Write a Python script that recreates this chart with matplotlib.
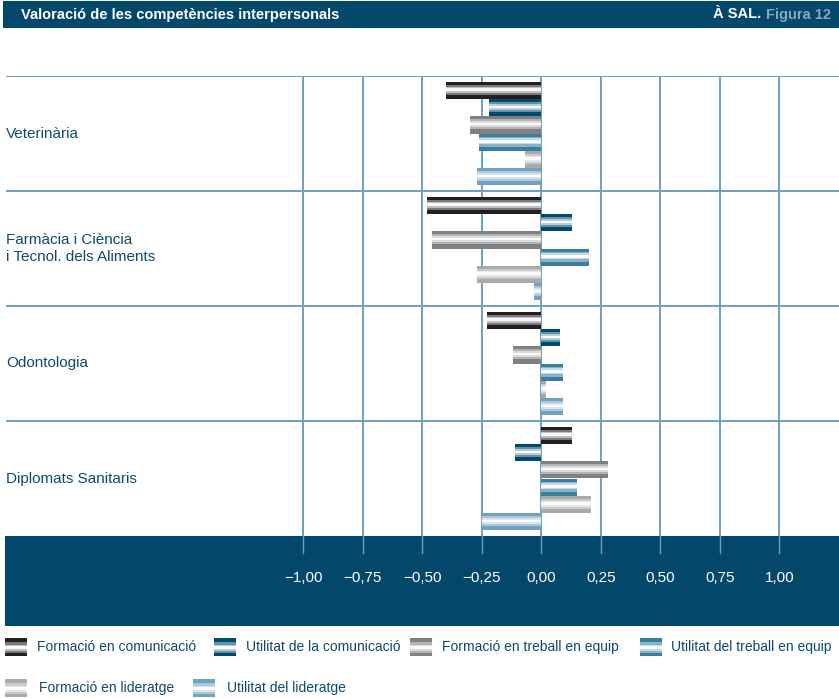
import numpy as np
import matplotlib
matplotlib.use("Agg")
import matplotlib.pyplot as plt
from matplotlib.colors import to_rgb
from matplotlib.patches import Rectangle

plt.rcParams['font.family'] = ['Liberation Sans', 'DejaVu Sans']

categories = ["Veterinària", "Farmàcia i Ciència\ni Tecnol. dels Aliments",
              "Odontologia", "Diplomats Sanitaris"]
series = ["Formació en comunicació", "Utilitat de la comunicació",
          "Formació en treball en equip", "Utilitat del treball en equip",
          "Formació en lideratge", "Utilitat del lideratge"]

form_comunicacio = [-0.40, -0.48, -0.23, 0.13]
util_comunicacio = [-0.22, 0.13, 0.08, -0.11]
form_treball = [-0.30, -0.46, -0.12, 0.28]
util_treball = [-0.26, 0.20, 0.09, 0.15]
form_lideratge = [-0.07, -0.27, 0.02, 0.21]
util_lideratge = [-0.27, -0.03, 0.09, -0.25]

ticks = [-1.0, -0.75, -0.5, -0.25, 0.0, 0.25, 0.5, 0.75, 1.0]
tick_labels = ["\u22121,00", "\u22120,75", "\u22120,50", "\u22120,25",
               "0,00", "0,25", "0,50", "0,75", "1,00"]

values = [form_comunicacio, util_comunicacio, form_treball,
          util_treball, form_lideratge, util_lideratge]
base_colors = ["#231f20", "#004a6e", "#808080", "#3a7ea0", "#a9a9a9", "#73a2c0"]

NAVY = "#03476b"
GRID = "#6f9fc0"
LABEL = "#0f4a6c"

# metallic look: (mix toward white, relative thickness), top to bottom
stripes = [(0.0, 3.3), (0.4, 1.7), (0.72, 1.7), (0.97, 2.7),
           (0.72, 1.7), (0.4, 2.3), (0.0, 4.3)]


def shade(color, t):
    c = np.array(to_rgb(color))
    return tuple(c + (1 - c) * t)


def striped_rect(ax, x, y, w, h, color):
    total = sum(s[1] for s in stripes)
    top = y + h
    for t, frac in stripes:
        sh = h * frac / total
        ax.add_patch(Rectangle((x, top - sh), w, sh, facecolor=shade(color, t),
                               edgecolor="none"))
        top -= sh


W, H = 839, 699
fig = plt.figure(figsize=(W / 100, H / 100), dpi=100)


def fax(x0, y0, x1, y1):
    # pixel box (top-left origin) -> figure axes
    return fig.add_axes([x0 / W, 1 - y1 / H, (x1 - x0) / W, (y1 - y0) / H])


xmin = (6 - 541.3) / 238
xmax = (839 - 541.3) / 238

# header bar
hdr = fax(3, 1, 839, 28)
hdr.set_axis_off()
hdr.add_patch(Rectangle((0, 0), 1, 1, transform=hdr.transAxes, color=NAVY))
hdr.text(0.021, 0.5, "Valoració de les competències interpersonals",
         color="white", fontsize=10.5, fontweight="bold", va="center", ha="left")
hdr.text(0.913, 0.5, "Figura 12", color="#8aa6ba", fontsize=10.5,
         fontweight="bold", va="center", ha="left")
hdr.text(0.907, 0.5, "À SAL.", color="white", fontsize=10.5,
         fontweight="bold", va="center", ha="right")

# main chart
ax = fax(6, 76, 839, 536)
ax.set_xlim(xmin, xmax)
ax.set_ylim(len(categories) - 0.5, -0.5)
ax.set_axis_off()

for t in ticks:
    ax.axvline(t, color=GRID, lw=1.4, zorder=1)
for k in range(len(categories)):
    ax.axhline(k - 0.5, color=GRID, lw=1.4, zorder=1)

bar_h = 0.15
ypos = np.arange(len(categories))
total = sum(s[1] for s in stripes)
for i, (vals, col) in enumerate(zip(values, base_colors)):
    top = ypos - 0.45 + i * bar_h
    for t, frac in stripes:
        sh = bar_h * frac / total
        ax.barh(top + sh / 2, vals, height=sh, color=shade(col, t),
                edgecolor="none", zorder=3)
        top = top + sh

for k, cat in enumerate(categories):
    ax.text(xmin, k, cat, color=LABEL, fontsize=11, va="center", ha="left",
            linespacing=1.3)

# dark band with tick labels
band = fax(5, 536, 839, 626)
band.set_xlim(xmin - 1 / 238, xmax)
band.set_ylim(1, 0)
band.set_axis_off()
band.add_patch(Rectangle((0, 0), 1, 1, transform=band.transAxes, color=NAVY))
for t, lab in zip(ticks, tick_labels):
    band.plot([t, t], [0, 0.19], color=GRID, lw=1.0)
    band.text(t, 0.47, lab, color="white", fontsize=11, ha="center", va="center")

# legend
leg = fax(0, 630, 839, 699)
leg.set_xlim(0, 839)
leg.set_ylim(699, 630)
leg.set_axis_off()
leg_items = [(5, 647, 37), (214, 647, 246), (410, 647, 442), (640, 647, 671),
             (5, 688, 39), (193, 688, 227)]
for (px, py, tx), name, col in zip(leg_items, series, base_colors):
    striped_rect(leg, px, py - 9, 22, 18, col)
    leg.text(tx, py, name, color=LABEL, fontsize=10, va="center", ha="left")

fig.savefig("out.png", dpi=100)
